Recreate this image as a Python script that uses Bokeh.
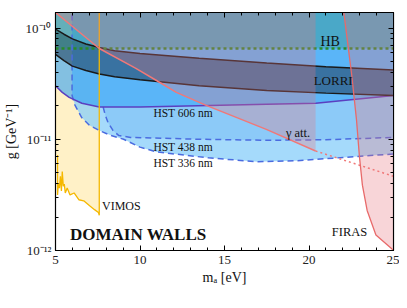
import numpy as np
from bokeh.plotting import figure
from bokeh.models import (FixedTicker, CustomJSTickFormatter, LinearAxis, LogAxis, Range1d)
from bokeh.core.properties import value
from bokeh.embed import file_html
from bokeh.resources import INLINE

# ---------------- data ----------------
x_ticks = [5, 10, 15, 20, 25]
x_minor = list(range(5, 26))
y_ticks = [1e-12, 1e-11, 1e-10]
y_tick_labels = ["10⁻¹²", "10⁻¹¹", "10⁻¹⁰"]
y_minor = [k * 10.0 ** e for e in (-12, -11, -10) for k in range(2, 10)]

m_min, m_max = 5.0, 25.0
g_min, g_max = 1e-12, 1.38e-10
g_beyond = 2e-10          # boundary continues above the plotted range

hb_g = 6.55e-11

lorri_m = [5.0, 5.5, 6.0, 6.8, 7.6, 8.5, 10.0, 13.5, 17.5, 21.0, 25.0]
lorri_upper = [9.8e-11, 8.8e-11, 8.0e-11, 7.2e-11, 6.7e-11, 6.25e-11, 5.9e-11, 5.35e-11, 4.85e-11, 4.5e-11, 4.2e-11]
lorri_lower = [5.8e-11, 5.1e-11, 4.55e-11, 4.15e-11, 3.87e-11, 3.65e-11, 3.43e-11, 3.03e-11, 2.75e-11, 2.6e-11, 2.48e-11]

hst606_m = [5.0, 5.4, 5.81, 6.56, 7.59, 10.0, 17.5, 20.4, 25.0]
hst606_g = [3.03e-11, 2.64e-11, 2.38e-11, 2.11e-11, 1.95e-11, 1.95e-11, 2.07e-11, 2.11e-11, 2.48e-11]

hst438_m = [7.82, 7.94, 8.11, 8.40, 8.75, 9.44, 13.5, 17.5, 21.0, 25.0]
hst438_g = [1.95e-11, 1.66e-11, 1.41e-11, 1.20e-11, 1.08e-11, 1.04e-11, 1.0e-11, 9.8e-12, 9.9e-12, 1.04e-11]

hst336_m = [5.98, 5.98, 6.15, 6.56, 7.02, 7.59, 8.29, 9.03, 10.0, 11.0, 14.05, 16.93, 19.24, 25.0]
hst336_g = [2e-10, 2.48e-11, 2.03e-11, 1.56e-11, 1.33e-11, 1.20e-11, 1.08e-11, 1.0e-11, 8.5e-12,
            7.69e-12, 6.81e-12, 6.28e-12, 6.41e-12, 7.38e-12]

vimos_m = [5.12, 5.12, 5.17, 5.23, 5.29, 5.35, 5.40, 5.46, 5.52, 5.58, 5.69, 5.86, 6.10, 6.38,
           6.67, 7.02, 7.31, 7.54, 7.59]
vimos_g = [7.24e-12, 3.16e-12, 4.03e-12, 3.64e-12, 4.65e-12, 3.43e-12, 5.14e-12, 3.79e-12, 3.95e-12,
           3.29e-12, 3.64e-12, 3.16e-12, 3.29e-12, 2.86e-12, 2.80e-12, 2.53e-12, 2.33e-12, 2.20e-12, 2.07e-12]

gatt_m = [5.0, 7.59, 9.73, 11.0, 12.15, 13.88, 17.51, 20.39]
gatt_g = [1.38e-10, 6.55e-11, 4.37e-11, 3.36e-11, 2.64e-11, 2.03e-11, 1.22e-11, 7.85e-12]
gatt_ext_m = [20.39, 25.0]
gatt_ext_g = [7.85e-12, 4.65e-12]

firas_m = [22.06, 22.52, 22.81, 22.98, 23.16, 23.44, 23.96, 24.88, 25.0]
firas_g = [1.38e-10, 3.87e-11, 1.50e-11, 7.1e-12, 3.87e-12, 2.29e-12, 1.38e-12, 1.04e-12, 1.0e-12]

# ---------------- figure ----------------
SERIF = "Liberation Serif"
p = figure(frame_width=338, frame_height=238, x_range=Range1d(m_min, m_max), y_range=Range1d(g_min, g_max),
           y_axis_type="log", output_backend="svg", toolbar_location=None,
           min_border_left=45, min_border_right=6, min_border_top=12, min_border_bottom=0)
p.grid.visible = False
p.outline_line_color = "black"
p.outline_line_width = 1.2
p.background_fill_color = "white"
p.border_fill_color = "white"

# ---- fills ----
# VIMOS (bottom layer)
p.patch([m_min] + vimos_m + [vimos_m[-1], m_min],
        [vimos_g[0]] + vimos_g + [g_beyond, g_beyond],
        fill_color="#ffc000", fill_alpha=0.22, line_color=None)
# HST 336
p.patch(hst336_m + [m_max], hst336_g + [g_beyond],
        fill_color="#87cefa", fill_alpha=0.75, line_color=None)
# HST 438 (bounded above by HST 606 curve)
i606 = [i for i, m in enumerate(hst606_m) if m > hst438_m[0]]
p.patch(hst438_m + [hst606_m[i] for i in reversed(i606)],
        hst438_g + [hst606_g[i] for i in reversed(i606)],
        fill_color="#52a5f1", fill_alpha=0.3, line_color=None)
# HST 606
p.patch(hst606_m + [m_max, m_min], hst606_g + [g_beyond, g_beyond],
        fill_color="#1e97f5", fill_alpha=0.55, line_color=None)
# LORRI band
p.patch(lorri_m + lorri_m[::-1], lorri_upper + lorri_lower[::-1],
        fill_color="#1a3550", fill_alpha=0.52, line_color=None)
# HB
p.patch([m_min, m_max, m_max, m_min], [hb_g, hb_g, g_beyond, g_beyond],
        fill_color="#2d906f", fill_alpha=0.35, line_color=None)

# ---- boundary lines ----
p.line(hst336_m, hst336_g, line_color="#4a6be0", line_width=1.5, line_dash="6 4")
p.line(hst438_m, hst438_g, line_color="#4a6be0", line_width=1.5, line_dash="6 4")
p.line(hst606_m, hst606_g, line_color="#5b3fc0", line_width=1.5)
p.line(lorri_m, lorri_upper, line_color="#1a1a1a", line_width=1.5)
p.line(lorri_m, lorri_lower, line_color="#1a1a1a", line_width=1.5)
p.line([m_min, m_max], [hb_g, hb_g], line_color="#2a8a2a", line_width=2.5, line_dash="3 3")
p.line(vimos_m + [vimos_m[-1]], vimos_g + [g_beyond], line_color="#f5b800", line_width=1.3)

# ---- pink layers on top ----
p.patch(gatt_m + [gatt_m[-1], m_min], gatt_g + [g_beyond, g_beyond],
        fill_color="#e8737d", fill_alpha=0.3, line_color=None)
p.patch(firas_m + [m_max, firas_m[0]], firas_g + [g_beyond, g_beyond],
        fill_color="#e8737d", fill_alpha=0.3, line_color=None)
p.line(gatt_m, gatt_g, line_color="#f07878", line_width=1.5)
p.line(gatt_ext_m, gatt_ext_g, line_color="#f07878", line_width=1.5, line_dash="2 3")
p.line(firas_m, firas_g, line_color="#e86a6a", line_width=1.3)

# ---- texts ----
def txt(x, y, s, size="12px", align="center", style="normal"):
    p.text(x=[x], y=[y], text=[s], text_font=value(SERIF), text_font_size=size,
           text_align=align, text_baseline="middle", text_color="#111111", text_font_style=style)

txt(21.25, 7.54e-11, "HB", "14px")
txt(21.43, 3.36e-11, "LORRI", "13px")
txt(12.55, 1.73e-11, "HST 606 nm", "11.5px")
txt(12.55, 8.5e-12, "HST 438 nm", "11.5px")
txt(12.55, 6.15e-12, "HST 336 nm", "11.5px")
txt(19.35, 1.15e-11, "γ att.", "12.5px")
txt(7.75, 2.53e-12, "VIMOS", "12px", align="left")
txt(22.4, 1.47e-12, "FIRAS", "12.5px")
txt(5.86, 1.38e-12, "DOMAIN WALLS", "17px", align="left", style="bold")

# ---- axes ----
xt = FixedTicker(ticks=x_ticks, minor_ticks=x_minor)
yt = FixedTicker(ticks=y_ticks, minor_ticks=y_minor)
yfmt = CustomJSTickFormatter(args=dict(tvals=y_ticks, tlabels=y_tick_labels), code="""
for (let i = 0; i < tvals.length; i++) {
  if (Math.abs(Math.log10(tvals[i]) - Math.log10(tick)) < 1e-6) return tlabels[i];
}
return '';
""")
blank = CustomJSTickFormatter(code="return '';")


def style(ax):
    ax.major_tick_in = 5
    ax.major_tick_out = 0
    ax.minor_tick_in = 3
    ax.minor_tick_out = 0
    ax.axis_line_color = "black"
    ax.major_tick_line_color = "black"
    ax.minor_tick_line_color = "black"
    ax.major_label_text_font = SERIF
    ax.major_label_text_font_size = "13px"
    ax.major_label_text_color = "#222222"
    ax.axis_label_text_font = SERIF
    ax.axis_label_text_font_size = "14px"
    ax.axis_label_text_font_style = "normal"
    ax.axis_label_text_color = "#111111"


p.xaxis.ticker = xt
p.yaxis.ticker = yt
p.yaxis.formatter = yfmt
p.xaxis.axis_label = "mₐ [eV]"
p.yaxis.axis_label = "g [GeV⁻¹]"
style(p.xaxis[0])
style(p.yaxis[0])
p.xaxis.major_label_standoff = 5
p.yaxis.major_label_standoff = 4
p.xaxis.axis_label_standoff = 3
p.yaxis.axis_label_standoff = 4

top = LinearAxis(ticker=xt, formatter=blank)
right = LogAxis(ticker=yt, formatter=blank)
for ax in (top, right):
    style(ax)
    ax.major_label_text_font_size = "0px"
    ax.major_label_standoff = 0
p.add_layout(top, "above")
p.add_layout(right, "right")

open("out.html", "w").write(file_html(p, INLINE))
